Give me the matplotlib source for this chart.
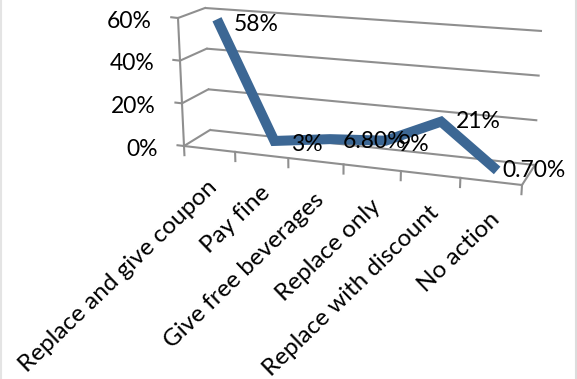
import numpy as np
import matplotlib
matplotlib.use("Agg")
import matplotlib.pyplot as plt
from matplotlib.transforms import Transform

categories = ["Replace and give coupon", "Pay fine", "Give free beverages",
              "Replace only", "Replace with discount", "No action"]
values = [58, 3, 6.8, 9, 21, 0.7]
value_labels = ["58%", "3%", "6.80%", "9%", "21%", "0.70%"]
y_ticks = [0, 20, 40, 60]
y_tick_labels = ["0%", "20%", "40%", "60%"]

GRID = "#8f8f8f"
LINE = "#3c6794"
FONT = "Lato"
FS = 16.5


class Wall(Transform):
    # bilinear map from (category, percent) onto one plane of the 3d box,
    # warp squeezes the categories toward the left for the perspective
    input_dims = 2
    output_dims = 2

    def __init__(self, bl, br, tl, tr, warp=0.0):
        super().__init__()
        self.c = np.array([bl, br, tl, tr], dtype=float)
        self.warp = warp

    def transform_non_affine(self, values):
        v = np.asarray(values, dtype=float)
        u = v[:, 0] / 6.0
        u = (u - self.warp * u * (1 - u))[:, None]
        w = (v[:, 1] / 60.0)[:, None]
        bottom = self.c[0] * (1 - u) + self.c[1] * u
        top = self.c[2] * (1 - u) + self.c[3] * u
        return bottom * (1 - w) + top * w


fig = plt.figure(figsize=(5.77, 3.79), dpi=100)
ax = fig.add_axes([0, 0, 1, 1])
ax.set_xlim(0, 577)
ax.set_ylim(379, 0)
ax.axis("off")

front = Wall((184, 146), (522, 185), (178, 18), (530, 57), warp=0.112) + ax.transData
middle = Wall((191, 138), (525, 175), (189, 12), (524, 49)) + ax.transData
back = Wall((210, 130), (535, 165), (205, 8), (542, 31)) + ax.transData
inv = ax.transData.inverted()


def edge(p, q):
    # straight box edge between a point on one wall and a point on another
    a, b = inv.transform(np.vstack([p, q]))
    ax.plot([a[0], b[0]], [a[1], b[1]], color=GRID, lw=1.5)


# gridlines on the back wall and the box edges joining them to the front
for t in y_ticks:
    ax.plot([0, 6], [t, t], color=GRID, lw=1.5, transform=back, solid_capstyle="butt")
    edge(front.transform([(0, t)]), back.transform([(0, t)]))
    ax.plot([-0.13, 0], [t, t], color=GRID, lw=1.5, transform=front)

ax.plot([0, 0], [0, 60], color=GRID, lw=1.5, transform=front)
ax.plot([0, 6], [0, 0], color=GRID, lw=1.5, transform=front)
edge(front.transform([(6, 0)]), back.transform([(6, 0)]))

for i in range(7):
    ax.plot([i, i], [0, -4.3], color=GRID, lw=1.5, transform=front)

x = np.arange(len(values)) + 0.5
ax.plot(x, values, color=LINE, lw=7.2, transform=middle,
        solid_joinstyle="miter", solid_capstyle="butt", zorder=3)

# value labels sit beside the line, left edge at the given pixel offset
label_offsets = [(17, -5), (17, -4), (13, -2), (12, -4), (15, 0), (5, 0)]
for xi, v, txt, off in zip(x, values, value_labels, label_offsets):
    ax.annotate(txt, (xi, v), xycoords=middle, xytext=off, textcoords="offset pixels",
                ha="left", va="center", fontsize=FS, family=FONT, color="black", zorder=4)

for t, txt in zip(y_ticks, y_tick_labels):
    ax.annotate(txt, (0, t), xycoords=front, xytext=(-26, -3), textcoords="offset pixels",
                ha="right", va="center", fontsize=FS, family=FONT, color="black")

for i, name in enumerate(categories):
    ax.annotate(name, (i + 0.5, 0), xycoords=front, xytext=(5, -35),
                textcoords="offset pixels", ha="right", va="center", rotation=44,
                rotation_mode="anchor", fontsize=17.5, family=FONT, color="black")

# faint frame around the picture
ax.plot([1, 1], [0, 379], color="#e4e4e4", lw=1.5)
ax.plot([575.5, 575.5], [0, 379], color="#dcdcdc", lw=1.5)

fig.savefig("out.png", dpi=100, facecolor="white")
